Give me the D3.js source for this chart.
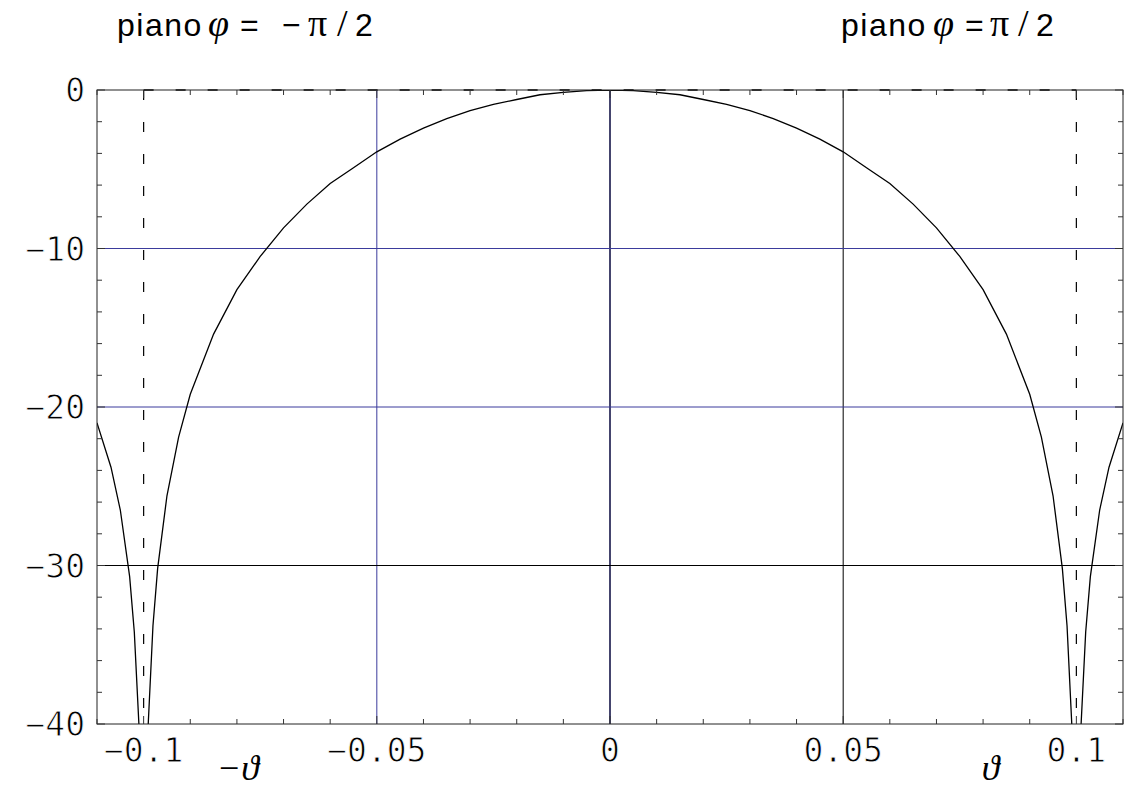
<!DOCTYPE html>
<html>
<head>
<meta charset="utf-8">
<script src="https://cdn.jsdelivr.net/npm/d3@7"></script>
<style>
    body { margin: 0; background: #fff; }
    #chart { width: 1129px; height: 790px; }
    svg { display: block; }
    .tick-label { font-family: "DejaVu Sans Mono", "Liberation Mono", monospace; font-size: 33px; fill: #000; stroke: #fff; stroke-width: 0.9px; }
    .title { font-family: "Liberation Sans", Arial, sans-serif; font-size: 32px; fill: #000; }
    .greek { font-family: "Liberation Serif", "DejaVu Serif", serif; font-style: italic; }
</style>
</head>
<body>
<div id="chart"></div>
<script>
// tick values + labels
const xTicks = [-0.1, -0.05, 0, 0.05, 0.1];
const xTickLabels = ["\u22120.1", "\u22120.05", "0", "0.05", "0.1"];
const yTicks = [0, -10, -20, -30, -40];
const yTickLabels = ["0", "\u221210", "\u221220", "\u221230", "\u221240"];

// grid lines (value, colour)
const xGrid = [-0.05, 0, 0.05];
const xGridColors = ["#3b3b9c", "#30305e", "#000000"];
const yGrid = [-10, -20, -30];
const yGridColors = ["#3b3b9c", "#3b3b9c", "#000000"];

// dashed reference lines at the nulls
const nullLines = [-0.1, 0.1];

// pattern (dB) vs theta; null = gap at the nulls
const theta = [
    -0.11, -0.107, -0.105, -0.103, -0.102, -0.101, -0.1005, -0.1, -0.0995, -0.099,
    -0.098, -0.097, -0.095, -0.0925, -0.09, -0.085, -0.08, -0.075, -0.07, -0.065,
    -0.06, -0.055, -0.05, -0.045, -0.04, -0.035, -0.03, -0.025, -0.02, -0.015,
    -0.01, -0.005, 0, 0.005, 0.01, 0.015, 0.02, 0.025, 0.03, 0.035,
    0.04, 0.045, 0.05, 0.055, 0.06, 0.065, 0.07, 0.075, 0.08, 0.085,
    0.09, 0.0925, 0.095, 0.097, 0.098, 0.099, 0.0995, 0.1, 0.1005, 0.101,
    0.102, 0.103, 0.105, 0.107, 0.11
];
const gainDb = [
    -21.0, -23.8, -26.5, -30.7, -34.2, -40.1, -46.1, null, -46.0, -39.9,
    -33.8, -30.2, -25.6, -21.9, -19.2, -15.4, -12.6, -10.5, -8.7, -7.2,
    -5.9, -4.9, -3.9, -3.1, -2.4, -1.8, -1.3, -0.9, -0.6, -0.3,
    -0.15, -0.04, 0, -0.04, -0.15, -0.3, -0.6, -0.9, -1.3, -1.8,
    -2.4, -3.1, -3.9, -4.9, -5.9, -7.2, -8.7, -10.5, -12.6, -15.4,
    -19.2, -21.9, -25.6, -30.2, -33.8, -39.9, -46.0, null, -46.1, -40.1,
    -34.2, -30.7, -26.5, -23.8, -21.0
];

// title pieces: text, x position, style
const leftTitle = [
    ["piano", 117, "sans"], ["\u03C6", 208, "ital"], ["=", 240, "sans"],
    ["\u2212", 282, "sans"], ["\u03C0", 308, "serif"], ["/", 337, "serif"], ["2", 355, "sans"]
];
const rightTitle = [
    ["piano", 841, "sans"], ["\u03C6", 933, "ital"], ["=", 965, "sans"],
    ["\u03C0", 990, "serif"], ["/", 1018, "serif"], ["2", 1036, "sans"]
];

var svg, xScale, yScale;
var margin, width, height, innerWidth, innerHeight;

document.addEventListener('DOMContentLoaded', function () {
    width = 1129;
    height = 790;
    margin = { top: 90, right: 6, bottom: 66, left: 97 };
    innerWidth = width - margin.left - margin.right;
    innerHeight = height - margin.top - margin.bottom;

    svg = d3.select('#chart')
        .append('svg')
        .attr('width', width)
        .attr('height', height);

    xScale = d3.scaleLinear().domain([-0.11, 0.11]).range([margin.left, margin.left + innerWidth]);
    yScale = d3.scaleLinear().domain([-40, 0]).range([margin.top + innerHeight, margin.top]);

    svg.append('clipPath').attr('id', 'plotClip')
        .append('rect')
        .attr('x', margin.left).attr('y', margin.top)
        .attr('width', innerWidth).attr('height', innerHeight);

    drawGrid();
    drawCurve();
    drawFrame();
    drawLabels();
});

function drawGrid() {
    const g = svg.append('g');
    xGrid.forEach((v, i) => {
        g.append('line')
            .attr('x1', xScale(v)).attr('x2', xScale(v))
            .attr('y1', margin.top).attr('y2', margin.top + innerHeight)
            .attr('stroke', xGridColors[i])
            .attr('stroke-width', v === 0 ? 1.8 : 1);
    });
    yGrid.forEach((v, i) => {
        g.append('line')
            .attr('x1', margin.left).attr('x2', margin.left + innerWidth)
            .attr('y1', yScale(v)).attr('y2', yScale(v))
            .attr('stroke', yGridColors[i])
            .attr('stroke-width', 1);
    });

    // dashed lines at the nulls and along 0 dB
    nullLines.forEach(v => {
        g.append('line')
            .attr('x1', xScale(v)).attr('x2', xScale(v))
            .attr('y1', margin.top).attr('y2', margin.top + innerHeight)
            .attr('stroke', '#000').attr('stroke-width', 1.2)
            .attr('stroke-dasharray', '10,22');
    });
    g.append('line')
        .attr('x1', xScale(-0.1)).attr('x2', xScale(0.1))
        .attr('y1', yScale(0)).attr('y2', yScale(0))
        .attr('stroke', '#000').attr('stroke-width', 1.4)
        .attr('stroke-dasharray', '10,22');
}

function drawCurve() {
    const pts = theta.map((t, i) => ({ x: t, y: gainDb[i] }));
    const line = d3.line()
        .defined(d => d.y !== null)
        .x(d => xScale(d.x))
        .y(d => yScale(d.y));

    svg.append('path')
        .datum(pts)
        .attr('clip-path', 'url(#plotClip)')
        .attr('d', line)
        .attr('fill', 'none')
        .attr('stroke', '#000')
        .attr('stroke-width', 1.3);
}

function drawFrame() {
    const x0 = margin.left, x1 = margin.left + innerWidth;
    const y0 = margin.top, y1 = margin.top + innerHeight;

    svg.append('rect')
        .attr('x', x0).attr('y', y0)
        .attr('width', innerWidth).attr('height', innerHeight)
        .attr('fill', 'none').attr('stroke', '#222').attr('stroke-width', 1);

    // ticks pointing inward on all four sides
    const xMinor = d3.range(-11, 12).map(k => k / 100);
    const yMinor = d3.range(-40, 1, 2);
    const t = svg.append('g').attr('stroke', '#333').attr('stroke-width', 1);

    xMinor.forEach(v => {
        const len = xTicks.some(m => Math.abs(m - v) < 1e-9) ? 8 : 5;
        t.append('line').attr('x1', xScale(v)).attr('x2', xScale(v)).attr('y1', y1).attr('y2', y1 - len);
        t.append('line').attr('x1', xScale(v)).attr('x2', xScale(v)).attr('y1', y0).attr('y2', y0 + len);
    });
    yMinor.forEach(v => {
        const len = v % 10 === 0 ? 8 : 5;
        t.append('line').attr('y1', yScale(v)).attr('y2', yScale(v)).attr('x1', x0).attr('x2', x0 + len);
        t.append('line').attr('y1', yScale(v)).attr('y2', yScale(v)).attr('x1', x1).attr('x2', x1 - len);
    });
}

function drawTitle(pieces) {
    const txt = svg.append('text').attr('class', 'title').attr('y', 36);
    pieces.forEach(p => {
        const s = txt.append('tspan').attr('x', p[1]).text(p[0]);
        if (p[2] === 'sans') s.style('letter-spacing', '1.5px');
        if (p[2] === 'ital') s.attr('class', 'greek').style('font-size', '38px');
        if (p[2] === 'serif') s.attr('class', 'greek').style('font-style', 'normal').style('font-size', '38px');
    });
}

function drawLabels() {
    xTicks.forEach((v, i) => {
        svg.append('text')
            .attr('class', 'tick-label')
            .attr('x', xScale(v))
            .attr('y', 762)
            .style('text-anchor', 'middle')
            .text(xTickLabels[i]);
    });
    yTicks.forEach((v, i) => {
        svg.append('text')
            .attr('class', 'tick-label')
            .attr('x', 85)
            .attr('y', yScale(v) + 12)
            .style('text-anchor', 'end')
            .text(yTickLabels[i]);
    });

    // theta labels under the axis
    svg.append('text')
        .attr('class', 'greek')
        .attr('x', xScale(-0.0798)).attr('y', 780)
        .style('text-anchor', 'middle')
        .style('font-size', '36px')
        .text('\u2212\u03D1');
    svg.append('text')
        .attr('class', 'greek')
        .attr('x', xScale(0.0816)).attr('y', 780)
        .style('text-anchor', 'middle')
        .style('font-size', '36px')
        .text('\u03D1');

    drawTitle(leftTitle);
    drawTitle(rightTitle);
}
</script>
</body>
</html>
